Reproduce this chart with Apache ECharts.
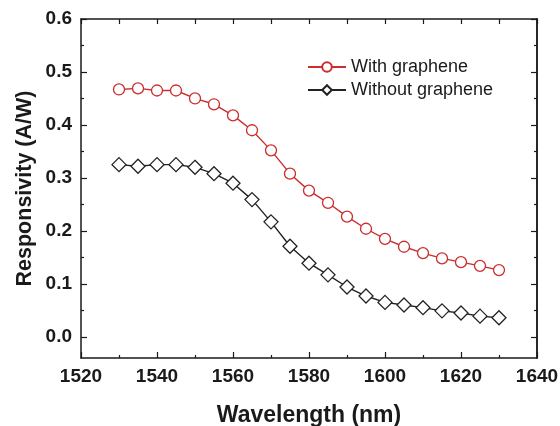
<!DOCTYPE html>
<html>
<head>
<meta charset="utf-8">
<script src="https://cdn.jsdelivr.net/npm/echarts@6/dist/echarts.min.js"></script>
<style>
  html, body { margin: 0; padding: 0; background: #fff; }
  #chart { width: 560px; height: 426px; }
</style>
</head>
<body>
<div id="chart"></div>
<script>
// wavelength (nm)
const wavelengths = [1530, 1535, 1540, 1545, 1550, 1555, 1560, 1565, 1570, 1575, 1580,
  1585, 1590, 1595, 1600, 1605, 1610, 1615, 1620, 1625, 1630]
// responsivity (A/W)
const withGraphene = [0.467, 0.469, 0.465, 0.465, 0.450, 0.439, 0.418, 0.390, 0.352, 0.308, 0.276,
  0.253, 0.227, 0.204, 0.185, 0.170, 0.158, 0.148, 0.141, 0.134, 0.126]
const withoutGraphene = [0.325, 0.322, 0.325, 0.325, 0.320, 0.308, 0.290, 0.259, 0.217, 0.171, 0.139,
  0.117, 0.094, 0.077, 0.065, 0.060, 0.055, 0.049, 0.045, 0.039, 0.036]
const yMajorTicks = [0, 0.1, 0.2, 0.3, 0.4, 0.5, 0.6]
const yMinorTicks = [0.05, 0.15, 0.25, 0.35, 0.45, 0.55]

const font = 'Liberation Sans, Arial, sans-serif'
const ink = '#1a1a1a'

const chart = echarts.init(document.getElementById('chart'))

function pairs (ys) {
  return wavelengths.map((x, i) => [x, ys[i]])
}

// axes that only draw ticks (right side / minor ticks)
function tickAxis (position, values, len) {
  return {
    type: 'value',
    position: position,
    min: -0.04,
    max: 0.6,
    axisLine: { show: position === 'right', onZero: false, lineStyle: { color: ink, width: 1.5 } },
    axisTick: { show: true, inside: true, length: len, customValues: values, lineStyle: { color: ink, width: 1.2 } },
    axisLabel: { show: false },
    splitLine: { show: false }
  }
}

const option = {
  animation: false,
  backgroundColor: '#fff',
  grid: { left: 81, right: 23, top: 19, bottom: 68, outerBoundsMode: 'none', containLabel: false },
  legend: {
    orient: 'vertical',
    left: 302,
    top: 53,
    itemWidth: 38,
    itemHeight: 12,
    itemGap: 5,
    textStyle: { fontFamily: font, fontSize: 18, color: ink },
    data: ['With graphene', 'Without graphene']
  },
  xAxis: [
    {
      type: 'value',
      min: 1520,
      max: 1640,
      interval: 20,
      name: 'Wavelength (nm)',
      nameLocation: 'middle',
      nameGap: 46,
      nameTextStyle: { fontFamily: font, fontSize: 23, fontWeight: 'bold', color: ink },
      axisLine: { onZero: false, lineStyle: { color: ink, width: 1.5 } },
      axisTick: { inside: true, length: 6, lineStyle: { color: ink, width: 1.2 } },
      minorTick: { show: true, splitNumber: 2, length: 3, lineStyle: { color: ink, width: 1.2 } },
      axisLabel: {
        margin: 9,
        fontFamily: font,
        fontSize: 19,
        fontWeight: 'bold',
        color: ink,
        showMinLabel: true,
        showMaxLabel: true,
        formatter: v => String(v)
      },
      splitLine: { show: false },
      minorSplitLine: { show: false }
    },
    {
      type: 'value',
      position: 'top',
      min: 1520,
      max: 1640,
      interval: 20,
      axisLine: { onZero: false, lineStyle: { color: ink, width: 1.5 } },
      axisTick: { inside: true, length: 5, lineStyle: { color: ink, width: 1.2 } },
      minorTick: { show: true, splitNumber: 2, length: 5, lineStyle: { color: ink, width: 1.2 } },
      axisLabel: { show: false },
      splitLine: { show: false }
    }
  ],
  yAxis: [
    {
      type: 'value',
      min: -0.04,
      max: 0.6,
      name: 'Responsivity (A/W)',
      nameLocation: 'middle',
      nameGap: 45,
      nameMoveOverlap: false,
      nameTextStyle: { fontFamily: font, fontSize: 21.5, fontWeight: 'bold', color: ink },
      axisLine: { show: true, onZero: false, lineStyle: { color: ink, width: 1.5 } },
      axisTick: { show: true, inside: true, length: 6, customValues: yMajorTicks, lineStyle: { color: ink, width: 1.2 } },
      axisLabel: {
        margin: 9,
        fontFamily: font,
        fontSize: 19,
        fontWeight: 'bold',
        color: ink,
        customValues: yMajorTicks,
        formatter: v => v.toFixed(1)
      },
      splitLine: { show: false }
    },
    tickAxis('left', yMinorTicks, 3),
    tickAxis('right', yMajorTicks, 6),
    tickAxis('right', yMinorTicks, 3)
  ],
  series: [
    {
      name: 'With graphene',
      type: 'line',
      data: pairs(withGraphene),
      symbol: 'circle',
      symbolSize: 11,
      itemStyle: { color: '#fff', borderColor: '#cc2d2d', borderWidth: 1.3 },
      lineStyle: { color: '#cc2d2d', width: 1.4 },
      z: 3
    },
    {
      name: 'Without graphene',
      type: 'line',
      data: pairs(withoutGraphene),
      symbol: 'diamond',
      symbolSize: 14,
      itemStyle: { color: '#fff', borderColor: '#222', borderWidth: 1.3 },
      lineStyle: { color: '#222', width: 1.4 },
      z: 3
    }
  ]
}

chart.setOption(option)
</script>
</body>
</html>
